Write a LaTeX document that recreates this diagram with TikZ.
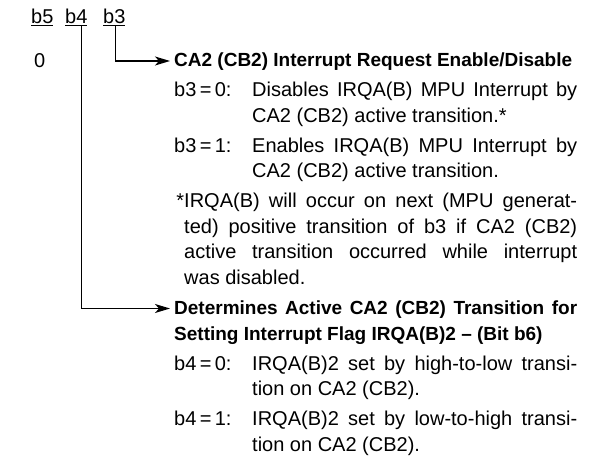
\documentclass[tikz,border=0pt]{standalone}
\usepackage{fontspec}
\setmainfont{Liberation Sans}
\usetikzlibrary{arrows.meta}
\hbadness=10000

\tikzset{
  txt/.style={anchor=base west, inner sep=0pt, font=\fontsize{20}{25.5}\selectfont},
  para/.style={txt, text width=#1, align=justify},
  head/.style={anchor=base west, inner sep=0pt, font=\fontsize{19}{25.5}\selectfont\bfseries},
  lead/.style={line width=1.3pt, shorten >=4pt, -{Stealth[length=15pt,width=9pt,inset=4pt]}},
}

\begin{document}
\begin{tikzpicture}[x=1pt,y=-1pt]
  \useasboundingbox (0,0) rectangle (599,462);
  % bit headings
  \node[txt] (b5) at (31,24) {\underline{b5}};
  \node[txt] (b4) at (65,24) {\underline{b4}};
  \node[txt] (b3) at (103,24) {\underline{b3}};
  \node[txt] (zero) at (34,68) {0};
  % b3 block
  \node[head] (req) at (174,67) {CA2 (CB2) Interrupt Request Enable/Disable};
  \node[txt] (b3off) at (174,97) {b3\,=\,0:};
  \node[para=325pt] (b3offtxt) at (252,97) {Disables IRQA(B) MPU Interrupt by\linebreak CA2 (CB2) active transition.*};
  \node[txt] (b3on) at (174,152.5) {b3\,=\,1:};
  \node[para=325pt] (b3ontxt) at (252,152.5) {Enables IRQA(B) MPU Interrupt by\linebreak CA2 (CB2) active transition.};
  \node[para=393pt] (note) at (184,208) {\llap{*}IRQA(B) will occur on next (MPU generat-\linebreak ted) positive transition of b3 if CA2 (CB2)\linebreak active transition occurred while interrupt\linebreak was disabled.};
  % b4 block
  \node[head, text width=403pt, align=justify] (flag) at (174,314.5) {Determines Active CA2 (CB2) Transition for\linebreak Setting Interrupt Flag IRQA(B)2 -- (Bit b6)};
  \node[txt] (b4low) at (174,370) {b4\,=\,0:};
  \node[para=325pt] (b4lowtxt) at (252,370) {IRQA(B)2 set by high-to-low transi-\linebreak tion on CA2 (CB2).};
  \node[txt] (b4high) at (174,425.5) {b4\,=\,1:};
  \node[para=325pt] (b4hightxt) at (252,425.5) {IRQA(B)2 set by low-to-high transi-\linebreak tion on CA2 (CB2).};
  % leads
  \draw[lead] ([xshift=1pt]b3.south) |- ([yshift=6pt]req.base west);
  \draw[lead] ([xshift=5pt]b4.south) |- ([yshift=6pt]flag.base west);
\end{tikzpicture}
\end{document}
